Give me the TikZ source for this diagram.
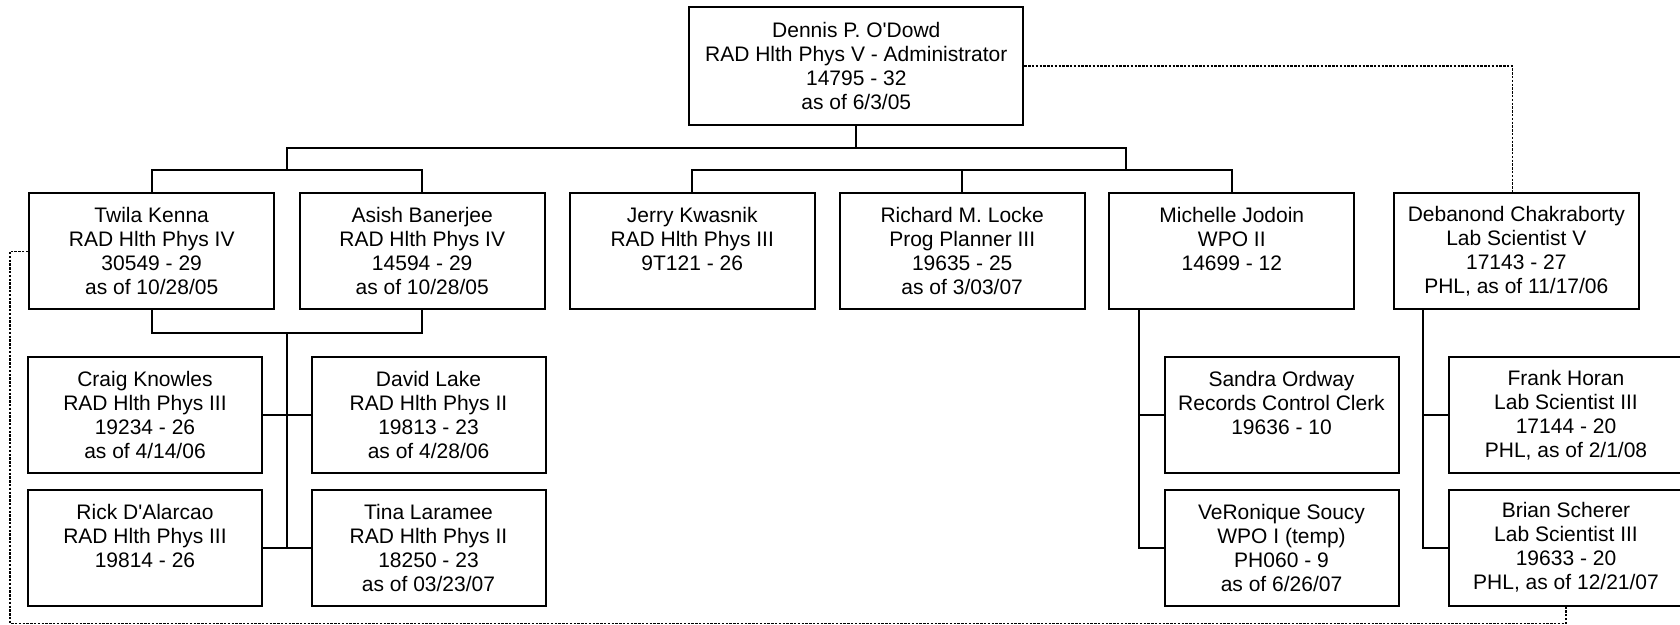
\documentclass[tikz,border=0pt]{standalone}
\usepackage{fontspec}
\setmainfont{Liberation Sans}
\begin{document}
\begin{tikzpicture}[x=0.5pt,y=-0.5pt,
  person/.style={draw,line width=1pt,minimum width=122.5pt,minimum height=58pt,inner sep=0pt,align=center,font=\fontsize{10.5pt}{12pt}\selectfont},
  staff/.style={person,minimum width=117pt},
  link/.style={line width=1pt},
  dotlink/.style={line width=0.75pt,dash pattern=on 1.2pt off 0.7pt}]
\useasboundingbox (0,0) rectangle (1680,625);
\node[person,minimum width=167pt,minimum height=58.8pt] (dennis) at (856.3,66.2) {Dennis P. O\textquotesingle Dowd\\RAD Hlth Phys V - Administrator\\14795 - 32\\as of 6/3/05};
\node[person] (twila) at (151.7,251.3) {Twila Kenna\\RAD Hlth Phys IV\\30549 - 29\\as of 10/28/05};
\node[person] (asish) at (422.2,251.3) {Asish Banerjee\\RAD Hlth Phys IV\\14594 - 29\\as of 10/28/05};
\node[person] (jerry) at (692.2,251.3) {Jerry Kwasnik\\RAD Hlth Phys III\\9T121 - 26\\~};
\node[person] (richard) at (962.2,251.3) {Richard M. Locke\\Prog Planner III\\19635 - 25\\as of 3/03/07};
\node[person] (michelle) at (1231.8,251.3) {Michelle Jodoin\\WPO II\\14699 - 12\\~};
\node[person] (debanond) at (1516.3,251.3) {Debanond Chakraborty\\Lab Scientist V\\17143 - 27\\PHL, as of 11/17/06};
\node[staff] (craig) at (145,415) {Craig Knowles\\RAD Hlth Phys III\\19234 - 26\\as of 4/14/06};
\node[staff] (david) at (428.5,415) {David Lake\\RAD Hlth Phys II\\19813 - 23\\as of 4/28/06};
\node[staff] (rick) at (145,547.5) {Rick D\textquotesingle Alarcao\\RAD Hlth Phys III\\19814 - 26\\~};
\node[staff] (tina) at (428.5,547.5) {Tina Laramee\\RAD Hlth Phys II\\18250 - 23\\as of 03/23/07};
\node[staff] (sandra) at (1281.5,415) {Sandra Ordway\\Records Control Clerk\\19636 - 10\\~};
\node[staff] (veronique) at (1281.5,547.5) {VeRonique Soucy\\WPO I (temp)\\PH060 - 9\\as of 6/26/07};
\node[staff] (frank) at (1566,415) {Frank Horan\\Lab Scientist III\\17144 - 20\\PHL, as of 2/1/08};
\node[staff] (brian) at (1566,547.5) {Brian Scherer\\Lab Scientist III\\19633 - 20\\PHL, as of 12/21/07};

\coordinate (joint) at (856.3,147.7);
\coordinate (lbar) at (287,170);
\coordinate (mbar) at (1125.7,170);
\coordinate (lowbar) at (287,333);
\coordinate (mspine) at ([xshift=15.3pt]michelle.south west);
\coordinate (dspine) at ([xshift=15pt]debanond.south west);
\coordinate (dcorner) at (10,623.3);

\draw[link] (dennis.south) -- (joint);
\draw[link] (lbar) |- (joint) -| (mbar);
\draw[link] (twila.north) |- (lbar) -| (asish.north);
\draw[link] (jerry.north) |- (mbar) -| (michelle.north);
\draw[link] (richard.north) -- (richard.north |- mbar);
\draw[link] (twila.south) |- (lowbar) -| (asish.south);
\draw[link] (lowbar) -- (lowbar |- rick.east);
\draw[link] (craig.east) -- (david.west);
\draw[link] (rick.east) -- (tina.west);
\draw[link] (mspine) |- (veronique.west);
\draw[link] (sandra.west) -- (sandra.west -| mspine);
\draw[link] (dspine) |- (brian.west);
\draw[link] (frank.west) -- (frank.west -| dspine);

\draw[dotlink] (dennis.east) -| ([xshift=-2pt]debanond.north);
\draw[dotlink] (twila.west) -| (dcorner) -| (brian.south);
\end{tikzpicture}
\end{document}
